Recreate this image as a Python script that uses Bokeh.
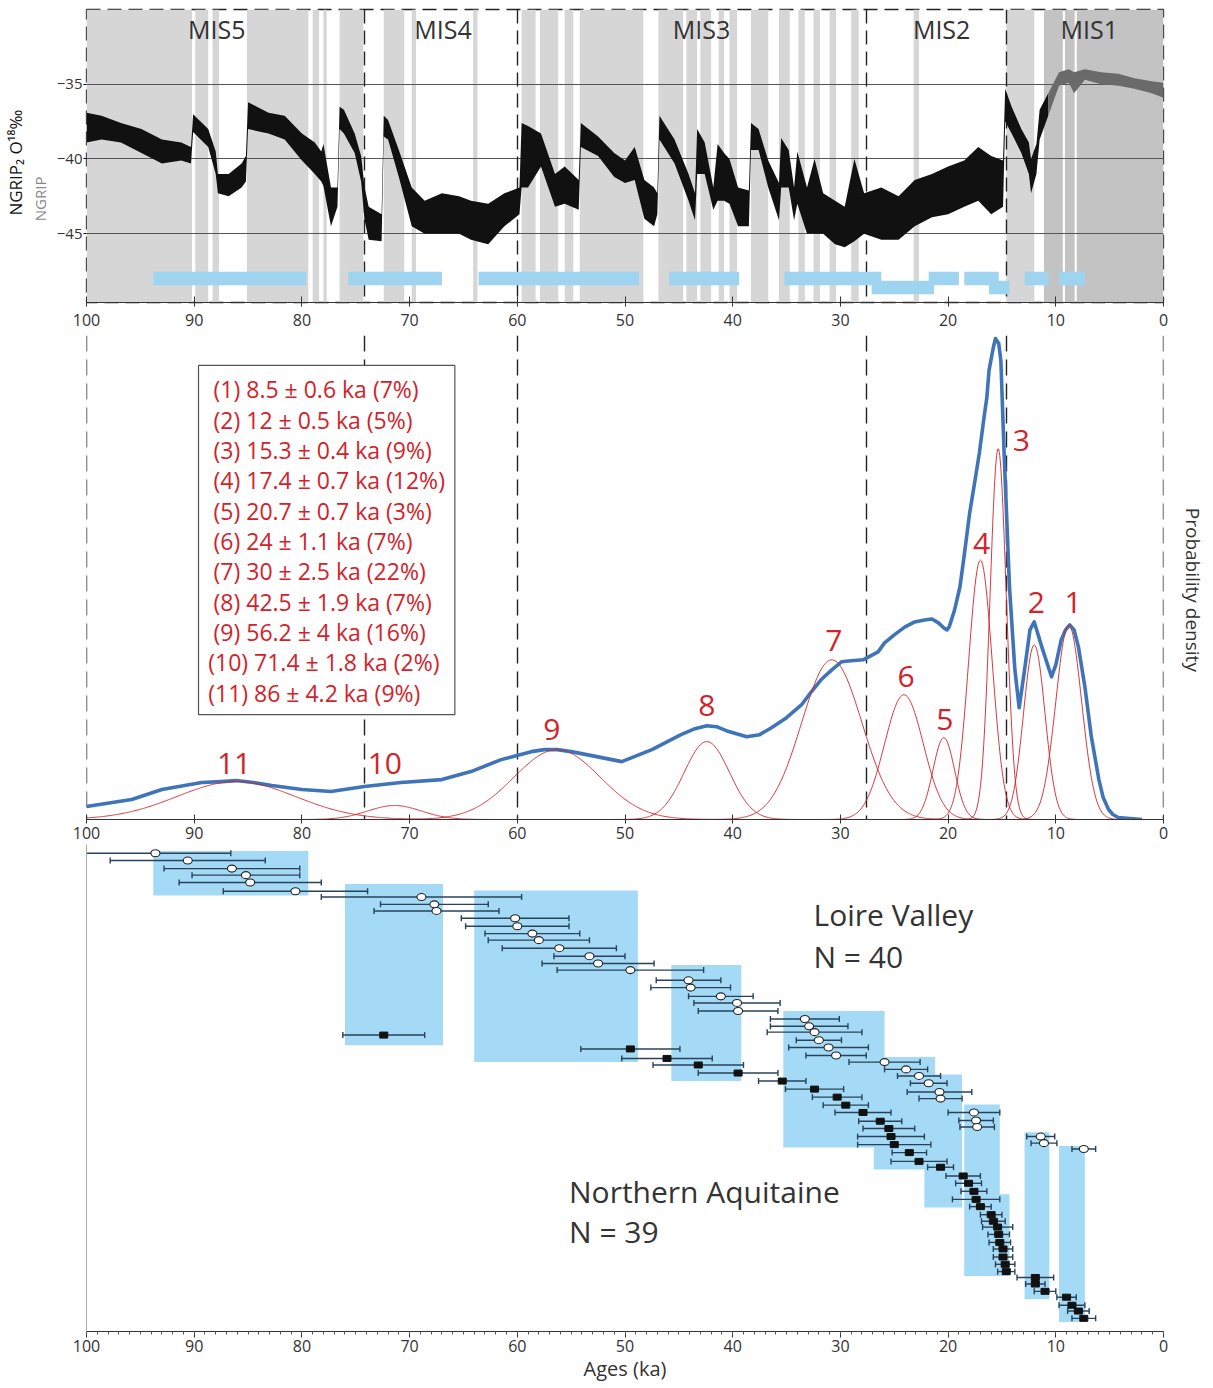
import numpy as np
from bokeh.plotting import figure
from bokeh.layouts import column
from bokeh.models import Range1d, FixedTicker, LinearAxis
from bokeh.core.properties import value
from bokeh.embed import file_html
from bokeh.resources import INLINE

FONT = "Open Sans"
INK = "#333333"
RED = "#d2232a"
BLUE_CURVE = "#3f75b8"
SKY = "#a4daf5"
BAR_INK = "#27425a"
NBSP = "\u00a0"

# ------------------------------------------------------------------ data
age_ticks = list(range(0, 101, 10))

mis_bounds = [74.2, 60.0, 27.6, 14.6]
mis_names = ["MIS5", "MIS4", "MIS3", "MIS2", "MIS1"]
mis_name_age = [87.9, 66.9, 42.9, 20.6, 6.9]

# Greenland interstadials (grey bands): older and younger edge, ka
gi_old = [100.0, 89.9, 88.3, 85.1, 79.0, 78.0, 76.5, 72.4, 69.8, 64.1, 59.6, 57.9, 55.6, 54.2,
          46.9, 44.3, 43.0, 41.3, 40.3, 38.3, 35.7, 33.9, 32.5, 31.0, 29.0, 23.2, 14.6]
gi_young = [90.2, 88.7, 87.7, 79.4, 78.4, 77.7, 74.3, 70.5, 69.4, 63.7, 58.3, 56.2, 54.8, 48.3,
            44.6, 43.3, 42.0, 40.8, 39.6, 36.7, 34.7, 33.3, 31.9, 30.4, 28.3, 22.7, 12.0]
holo_old = [11.1, 9.15, 8.05]
holo_young = [9.35, 8.25, 0.0]

# NGRIP2 d18O envelope (black), ka / permil
ngrip2_age = [100.0, 98.6, 96.8, 94.9, 93.0, 91.2, 90.3, 90.1, 88.7, 88.0, 87.8, 86.8, 85.6, 85.2,
              85.0, 83.1, 81.6, 80.0, 78.8, 78.2, 78.0, 77.3, 76.7, 76.5, 76.1, 75.1, 74.5, 74.2,
              73.8, 72.6, 72.4, 72.0, 71.0, 69.8, 68.6, 67.0, 65.4, 64.3, 62.7, 61.2, 59.8, 59.6,
              59.0, 57.8, 56.5, 55.6, 54.3, 54.1, 52.5, 51.0, 50.0, 49.1, 48.2, 47.3, 47.0, 46.8,
              45.4, 44.1, 43.5, 43.3, 42.6, 41.8, 41.4, 40.8, 40.3, 39.5, 38.5, 38.3, 37.6, 36.7,
              35.7, 35.5, 34.8, 34.3, 34.0, 33.1, 32.4, 31.6, 30.5, 29.6, 28.7, 27.8, 26.2, 24.6,
              23.1, 21.5, 20.0, 18.5, 17.2, 16.0, 14.9, 14.7, 14.1, 13.2, 12.5, 12.3, 11.8, 11.5, 10.7]
ngrip2_lo = [-38.9, -38.7, -38.9, -39.6, -40.3, -40.1, -40.3, -38.2, -39.2, -41.0, -42.3, -42.5, -41.9, -41.5,
             -38.0, -38.3, -38.7, -40.1, -41.0, -41.5, -41.8, -44.5, -43.2, -38.0, -38.3, -39.6, -41.5, -44.0,
             -45.4, -45.5, -38.5, -38.7, -41.2, -44.5, -45.0, -45.0, -45.0, -45.4, -45.7, -44.5, -43.7, -41.9,
             -41.9, -40.5, -43.2, -43.0, -43.4, -39.2, -39.8, -41.2, -41.6, -41.4, -44.0, -44.5, -43.7, -38.7,
             -40.3, -42.8, -44.1, -41.0, -41.0, -43.4, -42.8, -42.8, -43.0, -44.5, -44.5, -39.4, -39.4, -41.9,
             -44.1, -41.9, -41.9, -44.1, -43.0, -45.0, -45.0, -45.0, -45.7, -45.9, -45.5, -45.0, -45.4, -45.4,
             -44.5, -43.9, -43.7, -43.2, -42.8, -43.7, -43.2, -37.5, -38.3, -39.6, -41.0, -42.3, -41.0, -38.7, -37.1]
ngrip2_hi = [-36.9, -37.1, -37.6, -38.0, -38.7, -38.9, -39.2, -37.0, -38.0, -39.5, -41.0, -41.0, -40.3, -39.8,
             -36.2, -36.9, -37.1, -38.3, -38.9, -39.5, -39.0, -41.9, -41.9, -36.5, -36.7, -38.3, -39.8, -41.8,
             -43.2, -43.7, -37.1, -37.4, -39.4, -41.9, -42.8, -42.3, -42.5, -42.8, -43.0, -42.3, -41.9, -37.6,
             -37.8, -38.3, -41.0, -40.5, -41.4, -37.6, -38.5, -39.6, -40.1, -39.2, -41.4, -41.9, -42.3, -37.1,
             -38.7, -41.0, -42.3, -38.0, -38.9, -41.9, -39.0, -39.6, -40.0, -41.9, -42.1, -37.6, -38.0, -40.1,
             -41.6, -38.6, -39.4, -41.9, -39.5, -41.9, -40.0, -42.3, -42.8, -43.2, -40.0, -42.3, -41.9, -42.5,
             -41.4, -41.0, -40.5, -40.1, -39.2, -39.8, -40.1, -35.3, -36.5, -38.0, -38.9, -40.0, -39.0, -36.7, -35.6]

# NGRIP (Holocene, grey)
ngrip_age = [10.7, 9.7, 8.8, 8.3, 7.3, 5.8, 4.2, 2.7, 1.1, 0.0]
ngrip_lo = [-37.1, -35.1, -34.9, -35.6, -34.7, -35.0, -35.1, -35.3, -35.6, -35.9]
ngrip_hi = [-35.6, -34.2, -34.0, -34.2, -34.0, -34.2, -34.3, -34.6, -34.8, -34.9]

# occupation phases shown as bars in top panel
site_old = [93.8, 75.7, 63.6, 45.9, 35.2, 27.1, 21.8, 18.5, 16.2, 12.9, 9.7]
site_young = [79.6, 67.0, 48.7, 39.4, 26.2, 21.3, 19.0, 15.3, 14.3, 10.7, 7.3]
site_lane = [0, 0, 0, 0, 0, 1, 0, 0, 1, 0, 0]

# Gaussian mixture components (middle panel)
comp_mean = [8.8, 12.0, 15.35, 17.0, 20.4, 24.1, 30.8, 42.4, 56.3, 71.4, 86.1]
comp_sd = [1.2, 1.0, 0.75, 1.1, 1.0, 1.8, 2.8, 2.1, 4.0, 2.5, 5.5]
comp_peak = [195, 175, 372, 260, 82, 125, 160, 78, 70, 14, 38]
comp_label = ["1", "2", "3", "4", "5", "6", "7", "8", "9", "10", "11"]
leg_mean = ["8.5", "12", "15.3", "17.4", "20.7", "24", "30", "42.5", "56.2", "71.4", "86"]
leg_err = ["0.6", "0.5", "0.4", "0.7", "0.7", "1.1", "2.5", "1.9", "4", "1.8", "4.2"]
leg_pct = [7, 5, 9, 12, 3, 7, 22, 7, 16, 2, 9]

# summed probability density (blue)
sum_age = [100, 95.8, 93.0, 89.3, 87.5, 86.1, 84.5, 82.8, 80.0, 77.3, 74.2, 70.8, 67.0, 64.3,
           61.5, 58.7, 57.5, 56.3, 55.0, 53.1, 50.3, 47.5, 44.8, 43.5, 42.4, 41.5, 40.6, 38.7,
           37.5, 36.4, 35.0, 33.6, 32.7, 31.8, 30.8, 29.9, 29.0, 27.9, 26.5, 25.9, 25.0, 24.0,
           23.1, 22.2, 21.5, 20.9, 20.4, 20.1, 19.9, 19.4, 18.9, 18.5, 18.0, 17.5, 17.1, 16.7,
           16.4, 16.2, 15.8, 15.6, 15.3, 15.1, 14.8, 14.3, 13.8, 13.4, 12.9, 12.4, 12.0, 11.3,
           10.4, 10.0, 9.5, 9.1, 8.7, 8.3, 7.9, 7.3, 6.7, 6.0, 5.6, 5.1, 4.7, 4.2, 2.0]
sum_dens = [13, 20, 30, 37, 38, 39, 37, 34, 30, 28, 33, 37, 40, 48,
            60, 68, 70, 70, 68, 64, 58, 70, 85, 91, 94, 93, 89, 83,
            85, 92, 102, 115, 128, 140, 150, 158, 159, 160, 168, 177, 185, 193,
            198, 200, 201, 197, 192, 190, 193, 210, 233, 265, 307, 340, 367, 400,
            423, 450, 473, 482, 477, 460, 367, 233, 150, 112, 150, 190, 198, 173,
            143, 155, 180, 190, 195, 190, 173, 133, 83, 40, 22, 10, 5, 2, 0]

# age clusters (blue boxes, bottom panel)
clu_old = [93.8, 76.0, 64.0, 45.7, 35.3, 26.9, 22.2, 18.5, 17.4, 12.9, 9.7]
clu_young = [79.4, 66.9, 48.8, 39.2, 25.9, 21.2, 18.7, 15.2, 14.3, 10.6, 7.3]
clu_first = [-0.3, 4.2, 5.1, 15.3, 21.6, 27.9, 30.3, 34.4, 46.7, 38.2, 40.1]
clu_last = [5.8, 26.3, 28.6, 31.2, 40.3, 43.3, 48.5, 57.9, 57.9, 61.1, 64.2]

# Loire Valley ages (open symbols)
loire_age = [93.6, 90.6, 86.5, 85.2, 84.8, 80.6, 68.9, 67.7, 67.5, 60.2, 60.0, 58.6, 58.0, 56.1,
             53.3, 52.5, 49.5, 44.1, 43.9, 41.1, 39.6, 39.5, 33.3, 32.9, 32.4, 32.0, 31.1, 30.4,
             25.9, 23.9, 22.7, 21.8, 20.8, 20.7, 17.6, 17.4, 17.3, 11.4, 11.1, 7.4]
loire_err = [7.0, 7.2, 6.3, 5.0, 6.6, 6.7, 9.3, 5.0, 5.8, 5.0, 4.8, 4.4, 4.7, 5.3,
             3.3, 5.2, 6.8, 3.0, 3.7, 3.0, 4.0, 3.7, 3.2, 3.6, 4.4, 2.1, 3.7, 2.8,
             3.3, 2.0, 2.0, 1.7, 3.0, 2.0, 2.4, 1.6, 1.6, 1.3, 1.2, 1.1]
loire_row = [0.0, 1.0, 2.1, 3.0, 4.0, 5.2, 6.0, 7.0, 7.9, 8.9, 10.0, 11.0, 11.9, 13.0,
             14.1, 15.1, 16.0, 17.4, 18.4, 19.6, 20.5, 21.6, 22.7, 23.7, 24.5, 25.6, 26.6, 27.7,
             28.6, 29.6, 30.5, 31.5, 32.7, 33.6, 35.5, 36.6, 37.5, 38.8, 39.7, 40.5]

# Northern Aquitaine ages (filled symbols)
aqui_age = [72.4, 49.5, 46.1, 43.2, 39.5, 35.4, 32.4, 30.3, 29.5, 27.9, 26.3, 25.5, 25.3, 25.0,
            23.6, 22.7, 20.7, 18.6, 18.1, 17.6, 17.4, 17.0, 16.0, 15.8, 15.4, 15.3, 15.2, 14.9,
            14.9, 14.7, 14.6, 11.9, 11.9, 11.0, 9.0, 8.5, 7.9, 7.4]
aqui_err = [3.8, 4.6, 4.2, 4.2, 3.7, 2.2, 2.7, 2.3, 2.1, 2.6, 2.0, 2.4, 3.1, 3.4,
            1.6, 2.6, 1.2, 1.6, 1.2, 1.2, 2.2, 1.0, 1.0, 1.1, 1.4, 1.0, 1.0, 0.9,
            0.9, 0.9, 0.8, 1.7, 0.9, 1.0, 0.9, 1.2, 1.0, 1.1]
aqui_row = [24.9, 26.8, 28.1, 29.0, 30.1, 31.2, 32.3, 33.4, 34.5, 35.5, 36.7, 37.7, 38.8, 39.9,
            41.0, 42.2, 43.0, 44.2, 45.2, 46.3, 47.4, 48.4, 49.5, 50.4, 51.2, 52.2, 53.3, 54.2,
            55.3, 56.3, 57.3, 58.1, 59.0, 60.0, 60.8, 61.9, 62.7, 63.7]

# ------------------------------------------------------------------ helpers
x_rng = Range1d(100, 0)


def style_xaxis(p, tick_in, tick_out, standoff):
    p.xaxis.ticker = FixedTicker(ticks=age_ticks)
    p.xaxis.major_label_text_font = FONT
    p.xaxis.major_label_text_font_size = "16px"
    p.xaxis.major_label_text_color = INK
    p.xaxis.axis_line_color = "#333333"
    p.xaxis.major_tick_line_color = "#333333"
    p.xaxis.major_tick_in = tick_in
    p.xaxis.major_tick_out = tick_out
    p.xaxis.minor_tick_line_color = None
    p.xaxis.minor_tick_out = 0
    p.xaxis.minor_tick_in = 0
    p.xaxis.major_label_standoff = standoff


def base_fig(fh, yr, top, bottom):
    p = figure(frame_width=1077, frame_height=fh, x_range=x_rng, y_range=yr,
               output_backend="svg", toolbar_location=None,
               min_border_left=84, min_border_right=46,
               min_border_top=top, min_border_bottom=bottom)
    p.xgrid.grid_line_color = None
    p.ygrid.grid_line_color = None
    p.outline_line_color = None
    p.background_fill_color = "white"
    p.border_fill_color = "white"
    return p


def label_axis(text, size, color, standoff):
    return LinearAxis(axis_label=text, ticker=FixedTicker(ticks=[]), axis_line_color=None,
                      major_tick_line_color=None, minor_tick_line_color=None,
                      major_tick_in=0, major_tick_out=0, minor_tick_in=0, minor_tick_out=0,
                      major_label_standoff=0, major_label_text_font_size="0px",
                      axis_label_text_font=FONT, axis_label_text_font_size=size,
                      axis_label_text_font_style="normal", axis_label_text_color=color,
                      axis_label_standoff=standoff)


# ------------------------------------------------------------------ panel 1 : NGRIP
Y1_LO, Y1_HI = -49.6, -30.0
p1 = base_fig(293, Range1d(Y1_LO, Y1_HI), 9, 33)
p1.quad(left=gi_old, right=gi_young, bottom=Y1_LO, top=Y1_HI, fill_color="#d6d6d6", line_color=None)
p1.quad(left=holo_old, right=holo_young, bottom=Y1_LO, top=Y1_HI, fill_color="#c3c3c3", line_color=None)
p1.hspan(y=[-35, -40, -45], line_color="#555555", line_width=1)
p1.vspan(x=mis_bounds, line_color="#222222", line_dash="14 7", line_width=1.4)
p1.varea(x=ngrip2_age, y1=ngrip2_lo, y2=ngrip2_hi, fill_color="#111111")
p1.varea(x=ngrip_age, y1=ngrip_lo, y2=ngrip_hi, fill_color="#6a6a6a")
lane_y = [-48.0 - 0.6 * k for k in site_lane]
p1.quad(left=site_old, right=site_young,
        bottom=[y - 0.45 for y in lane_y], top=[y + 0.45 for y in lane_y],
        fill_color="#9fd4f0", line_color=None)
p1.text(x=mis_name_age, y=[-31.3] * len(mis_names), text=mis_names,
        text_font=value(FONT), text_font_size="25px", text_color=INK,
        text_align="center", text_baseline="middle")
p1.outline_line_color = "#222222"
p1.outline_line_dash = "14 7"
p1.outline_line_width = 1.3
style_xaxis(p1, 6, 4, 7)
p1.yaxis.ticker = FixedTicker(ticks=[-45, -40, -35])
p1.yaxis.major_label_text_font = FONT
p1.yaxis.major_label_text_font_size = "15px"
p1.yaxis.major_label_text_color = INK
p1.yaxis.axis_line_color = None
p1.yaxis.major_tick_in = 0
p1.yaxis.major_tick_out = 3
p1.yaxis.minor_tick_line_color = None
p1.yaxis.minor_tick_out = 0
p1.yaxis.minor_tick_in = 0
p1.yaxis.major_label_standoff = 1
p1.yaxis.axis_label = "NGRIP" + NBSP * 22
p1.yaxis.axis_label_text_font = FONT
p1.yaxis.axis_label_text_font_size = "15px"
p1.yaxis.axis_label_text_font_style = "normal"
p1.yaxis.axis_label_text_color = "#8a8a8a"
p1.yaxis.axis_label_standoff = 4
p1.add_layout(label_axis("NGRIP\u2082 O\u00b9\u2078\u2030" + NBSP * 3, "17px", "#111111", 0), "left")

# ------------------------------------------------------------------ panel 2 : densities
p2 = base_fig(484, Range1d(0, 485), 0, 25)
p2.yaxis.visible = False
p2.vspan(x=[100.0] + mis_bounds + [0.0], line_color="#222222", line_dash="16 8", line_width=1.4)

# legend box
p2.quad(left=[89.6], right=[65.8], bottom=[105], top=[455], fill_color="white",
        line_color="#555555", line_width=1.2)
leg_text = ["(%d) %s \u00b1 %s ka (%d%%)" % (i + 1, m, e, c)
            for i, (m, e, c) in enumerate(zip(leg_mean, leg_err, leg_pct))]
leg_x = [88.2 if i < 9 else 88.7 for i in range(len(leg_text))]
leg_y = [431 - 30.4 * i for i in range(len(leg_text))]
p2.text(x=leg_x, y=leg_y, text=leg_text, text_font=value(FONT), text_font_size="23px",
        text_color=RED, text_align="left", text_baseline="middle")

grid = np.arange(0.0, 100.05, 0.1)
comp_xs, comp_ys = [], []
for m, s, h in zip(comp_mean, comp_sd, comp_peak):
    comp_xs.append(grid)
    comp_ys.append(h * np.exp(-0.5 * ((grid - m) / s) ** 2))
p2.line(x=sum_age, y=sum_dens, line_color=BLUE_CURVE, line_width=3.6, line_join="round")
p2.multi_line(xs=comp_xs, ys=comp_ys, line_color=RED, line_width=1.0, line_alpha=0.9)

lab_age = [8.4, 11.8, 13.2, 16.9, 20.3, 23.9, 30.6, 42.4, 56.8, 72.3, 86.3]
lab_h = [217, 217, 380, 277, 100, 143, 179, 114, 90, 56, 56]
p2.text(x=lab_age, y=lab_h, text=comp_label, text_font=value(FONT), text_font_size="30px",
        text_color=RED, text_align="center", text_baseline="middle")
style_xaxis(p2, 5, 4, 3)
p2.add_layout(label_axis(NBSP * 5 + "Probability density", "19px", INK, 16), "right")

# ------------------------------------------------------------------ panel 3 : ages
p3 = base_fig(487, Range1d(65.5, -1.2), 0, 48)
p3.quad(left=clu_old, right=clu_young, top=clu_first, bottom=clu_last,
        fill_color=SKY, line_color=None)


def ages(p, a, e, r, filled):
    a = np.array(a)
    e = np.array(e)
    p.segment(x0=a - e, x1=a + e, y0=r, y1=r, line_color=BAR_INK, line_width=1.4)
    p.scatter(x=np.concatenate([a - e, a + e]), y=list(r) + list(r), marker="dash",
              angle=np.pi / 2, size=6, line_color=BAR_INK, line_width=1.4)
    if filled:
        p.rect(x=a, y=r, width=8, height=6, width_units="screen", height_units="screen",
               fill_color="#111111", line_color="#111111")
    else:
        p.ellipse(x=a, y=r, width=9, height=7, width_units="screen", height_units="screen",
                  fill_color="white", line_color="#222222", line_width=1.1)


ages(p3, aqui_age, aqui_err, aqui_row, True)
ages(p3, loire_age, loire_err, loire_row, False)

p3.text(x=[32.5, 32.5], y=[8.4, 14.1], text=["Loire Valley", "N = %d" % len(loire_age)],
        text_font=value(FONT), text_font_size="30px", text_color=INK,
        text_align="left", text_baseline="middle")
p3.text(x=[55.2, 55.2], y=[46.3, 51.8], text=["Northern Aquitaine", "N = 39"],
        text_font=value(FONT), text_font_size="30px", text_color=INK,
        text_align="left", text_baseline="middle")

style_xaxis(p3, 0, 6, 2)
p3.xaxis.ticker = FixedTicker(ticks=age_ticks, minor_ticks=list(range(0, 101)))
p3.xaxis.minor_tick_line_color = "#555555"
p3.xaxis.minor_tick_in = 0
p3.xaxis.minor_tick_out = 3
p3.xaxis.axis_label = "Ages (ka)"
p3.xaxis.axis_label_text_font = FONT
p3.xaxis.axis_label_text_font_size = "20px"
p3.xaxis.axis_label_text_font_style = "normal"
p3.xaxis.axis_label_text_color = INK
p3.xaxis.axis_label_standoff = 0
p3.yaxis.ticker = FixedTicker(ticks=[])
p3.yaxis.axis_line_color = "#aaaaaa"
p3.yaxis.major_tick_line_color = None
p3.yaxis.minor_tick_line_color = None
p3.yaxis.major_tick_out = 0
p3.yaxis.minor_tick_out = 0
p3.yaxis.major_label_standoff = 0
p3.yaxis.major_label_text_font_size = "0px"

layout = column(p1, p2, p3)
open("out.html", "w").write(file_html(layout, INLINE))
